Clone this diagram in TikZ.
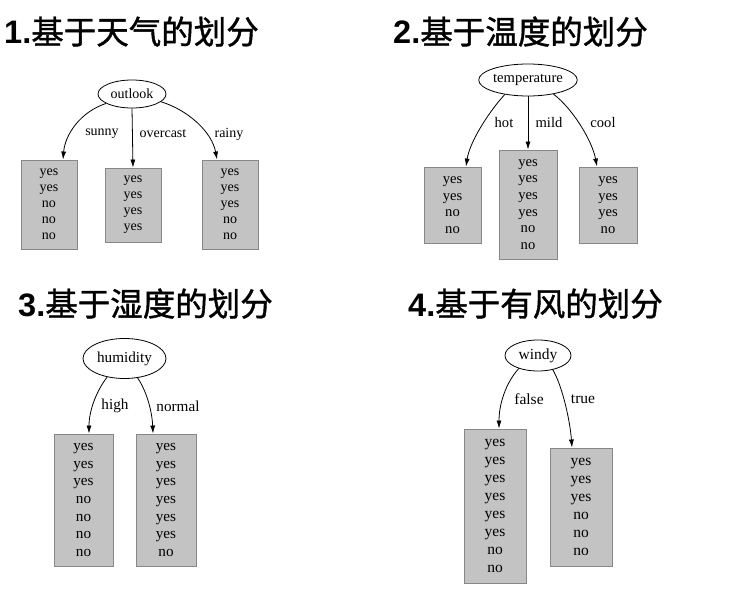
\documentclass[tikz,border=0pt]{standalone}
\usepackage{fontspec}
\setmainfont{Liberation Serif}
\newfontfamily\cjk{Noto Sans CJK SC}[FakeBold=1.2]
\newfontfamily\tsans{Liberation Sans}
\usetikzlibrary{shapes.geometric,arrows.meta,calc}
\definecolor{boxfill}{RGB}{195,195,195}
\definecolor{boxborder}{RGB}{135,135,135}
\newcommand\pfa{\fontsize{14}{16}\selectfont}
\newcommand\pfb{\fontsize{14.6}{16.6}\selectfont}
\newcommand\pfc{\fontsize{15.2}{17.7}\selectfont}
\newcommand\pfd{\fontsize{15.5}{18}\selectfont}
\tikzset{
  leaf/.style={draw=boxborder, fill=boxfill, line width=0.9pt, inner sep=0pt, align=center},
  attr/.style={draw, ellipse, inner sep=0pt, line width=0.8pt},
  edge/.style={-{Latex[length=8pt,width=5pt]}, line width=0.8pt},
  lbl/.style={inner sep=0pt},
  ttl/.style={anchor=base west, inner sep=0pt, font=\fontsize{32.5}{36}\selectfont}
}
\begin{document}
\begin{tikzpicture}[x=1pt,y=-1pt]
\useasboundingbox (0,0) rectangle (729,599);
% titles
\node[ttl] (t1) at (4,44) {{\tsans\bfseries 1.}{\cjk 基于天气的划分}};
\node[ttl] (t2) at (393,44) {{\tsans\bfseries 2.}{\cjk 基于温度的划分}};
\node[ttl] (t3) at (18,316) {{\tsans\bfseries 3.}{\cjk 基于湿度的划分}};
\node[ttl] (t4) at (408,316) {{\tsans\bfseries 4.}{\cjk 基于有风的划分}};

% panel 1
\node[attr, minimum width=68pt, minimum height=28pt, font=\pfa] (o1) at (132,94) {outlook};
\node[leaf, minimum width=56pt, minimum height=89pt, font=\pfa] (a1) at (49,204.5) {yes\\yes\\no\\no\\no};
\node[leaf, minimum width=56pt, minimum height=74pt, font=\pfa] (a2) at (133,205) {yes\\yes\\yes\\yes};
\node[leaf, minimum width=56pt, minimum height=89pt, font=\pfa] (a3) at (230,204.5) {yes\\yes\\yes\\no\\no};
\draw[edge] (o1.200) .. controls (80,112) and (65,135) .. ([xshift=14pt]a1.north);
\draw[edge] (o1.south) -- (a2.north);
\draw[edge] (o1.345) .. controls (188,110) and (212,132) .. ([xshift=-13pt]a3.north);
\node[lbl, font=\pfa] (la1) at (102,134) {sunny};
\node[lbl, font=\pfa] (la2) at (163,134) {overcast};
\node[lbl, font=\pfa] (la3) at (229,134) {rainy};

% panel 2
\node[attr, minimum width=96pt, minimum height=32pt, font=\pfb] (o2) at (528,80) {temperature};
\node[leaf, minimum width=57pt, minimum height=76pt, font=\pfb] (b1) at (452.5,205) {yes\\yes\\no\\no};
\node[leaf, minimum width=58pt, minimum height=109pt, font=\pfb] (b2) at (528,204.5) {yes\\yes\\yes\\yes\\no\\no};
\node[leaf, minimum width=58pt, minimum height=76pt, font=\pfb] (b3) at (608,205) {yes\\yes\\yes\\no};
\draw[edge] (o2.212) .. controls (492,108) and (470,140) .. ([xshift=13.5pt]b1.north);
\draw[edge] (o2.south) -- (b2.north);
\draw[edge] (o2.331) .. controls (572,108) and (592,140) .. ([xshift=-11pt]b3.north);
\node[lbl, font=\pfb] (lb1) at (504,123) {hot};
\node[lbl, font=\pfb] (lb2) at (549,123) {mild};
\node[lbl, font=\pfb] (lb3) at (603,123) {cool};

% panel 3
\node[attr, minimum width=83pt, minimum height=40pt, font=\pfc] (o3) at (124.5,358.5) {humidity};
\node[leaf, minimum width=59pt, minimum height=132pt, font=\pfc] (c1) at (83.5,500) {yes\\yes\\yes\\no\\no\\no\\no};
\node[leaf, minimum width=60pt, minimum height=132pt, font=\pfc] (c2) at (166,500) {yes\\yes\\yes\\yes\\yes\\yes\\no};
\draw[edge] (o3.227) .. controls (97,390) and (89,410) .. ([xshift=5.5pt]c1.north);
\draw[edge] (o3.304) .. controls (146,390) and (152,410) .. ([xshift=-13pt]c2.north);
\node[lbl, font=\pfc] (lc1) at (115,406) {high};
\node[lbl, font=\pfc] (lc2) at (178,406) {normal};

% panel 4
\node[attr, minimum width=66pt, minimum height=31pt, font=\pfd] (o4) at (538,355.5) {windy};
\node[leaf, minimum width=62pt, minimum height=154pt, font=\pfd] (d1) at (495,506) {yes\\yes\\yes\\yes\\yes\\yes\\no\\no};
\node[leaf, minimum width=62pt, minimum height=118pt, font=\pfd] (d2) at (581,507) {yes\\yes\\yes\\no\\no\\no};
\draw[edge] (o4.214) .. controls (505,384) and (499,405) .. ([xshift=4pt]d1.north);
\draw[edge] (o4.316) .. controls (562,385) and (570,420) .. ([xshift=-9pt]d2.north);
\node[lbl, font=\pfd] (ld1) at (529,399) {false};
\node[lbl, font=\pfd] (ld2) at (583,399) {true};
\end{tikzpicture}
\end{document}
